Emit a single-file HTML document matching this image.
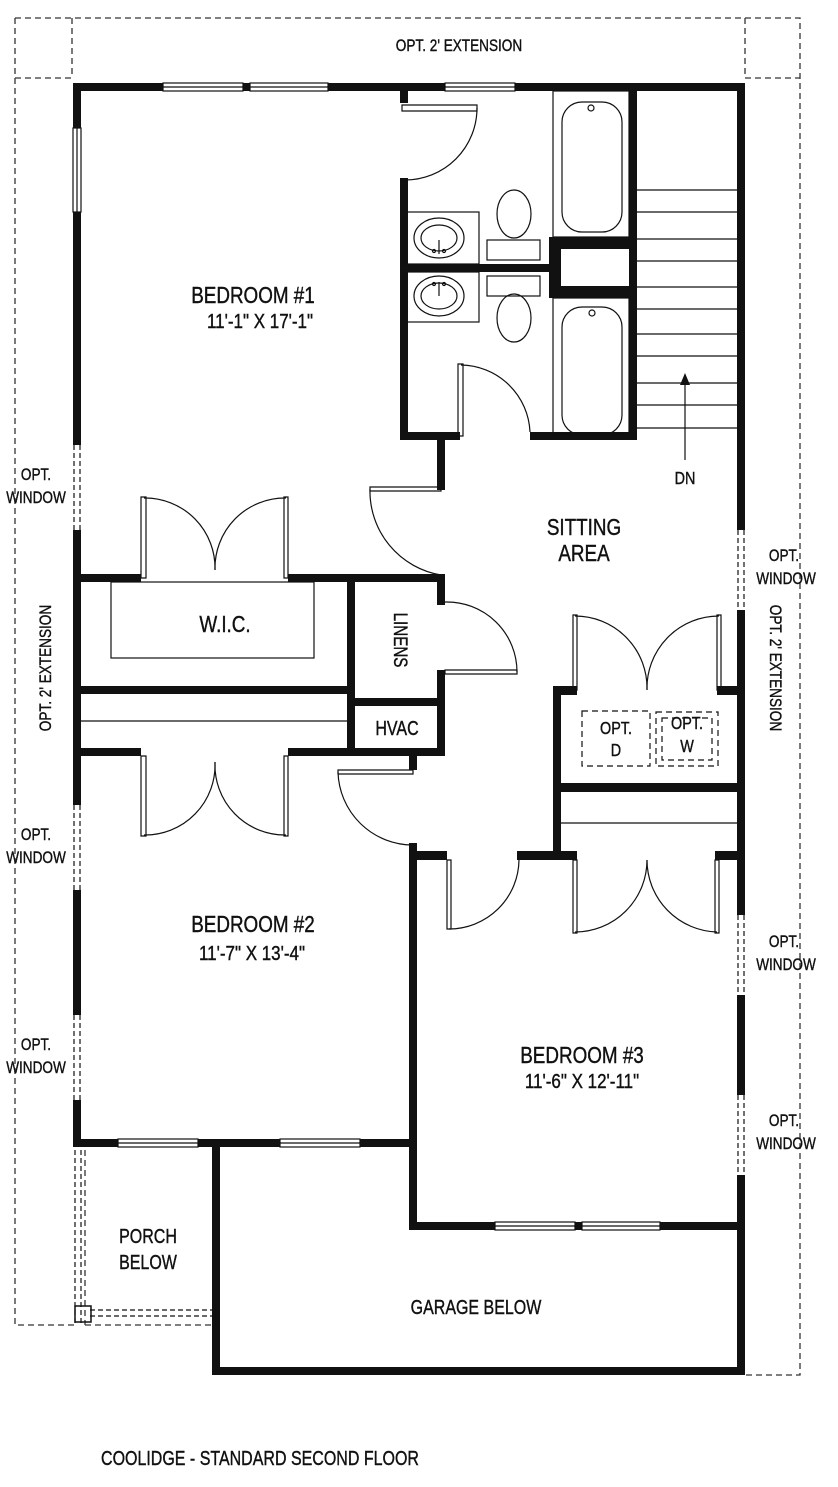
<!DOCTYPE html>
<html><head><meta charset="utf-8"><style>
html,body{margin:0;padding:0;background:#fff}
svg{display:block}
text{font-family:"Liberation Sans Narrow","Liberation Sans",sans-serif;fill:#111;stroke:#111;stroke-width:0.4}
</style></head><body>
<svg width="838" height="1487" viewBox="0 0 838 1487" xmlns="http://www.w3.org/2000/svg">
<g fill="none" stroke="#333" stroke-width="1.3" stroke-dasharray="6,4">
<path d="M15 18H800V1375H745M15 18V1325H77M15 78H72M745 78H800M72 18V78M745 18V78"/>
<path d="M85 1150V1325M85 1325H215"/>
</g>
<g fill="#111">
<rect x="73" y="83" width="90" height="8"/><rect x="243" y="83" width="7" height="8"/><rect x="328" y="83" width="117" height="8"/><rect x="515" y="83" width="230" height="8"/>
<rect x="73" y="83" width="8" height="45"/><rect x="73" y="212" width="8" height="233"/><rect x="73" y="530" width="8" height="275"/><rect x="73" y="890" width="8" height="125"/><rect x="73" y="1100" width="8" height="47"/>
<rect x="737" y="83" width="8" height="447"/><rect x="737" y="610" width="8" height="305"/><rect x="737" y="995" width="8" height="100"/><rect x="737" y="1175" width="8" height="200"/>
<rect x="400" y="91" width="8" height="12"/><rect x="400" y="178" width="8" height="262"/>
<rect x="400" y="432" width="60" height="8"/><rect x="530" y="432" width="107" height="8"/>
<rect x="629" y="91" width="8" height="349"/>
<rect x="404" y="264" width="150" height="8"/>
<rect x="549" y="237" width="84" height="12"/><rect x="549" y="286" width="84" height="12"/><rect x="549" y="237" width="12" height="61"/>
<rect x="437" y="440" width="8" height="50"/><rect x="437" y="575" width="8" height="30"/><rect x="437" y="670" width="8" height="82"/>
<rect x="77" y="574" width="64" height="8"/><rect x="288" y="574" width="157" height="8"/>
<rect x="347" y="574" width="8" height="178"/>
<rect x="77" y="686" width="274" height="8"/>
<rect x="351" y="698" width="90" height="8"/>
<rect x="77" y="748" width="64" height="8"/><rect x="288" y="748" width="157" height="8"/>
<rect x="409" y="752" width="8" height="18"/>
<rect x="553" y="686" width="8" height="170"/><rect x="553" y="686" width="24" height="9"/><rect x="717" y="686" width="24" height="9"/>
<rect x="557" y="783" width="184" height="9"/>
<rect x="409" y="843" width="8" height="387"/><rect x="409" y="851" width="38" height="9"/><rect x="517" y="851" width="60" height="9"/><rect x="715" y="851" width="26" height="9"/>
<rect x="409" y="1222" width="86" height="8"/><rect x="575" y="1222" width="7" height="8"/><rect x="660" y="1222" width="85" height="8"/>
<rect x="73" y="1139" width="45" height="8"/><rect x="198" y="1139" width="82" height="8"/><rect x="360" y="1139" width="57" height="8"/>
<rect x="212" y="1143" width="8" height="232"/><rect x="212" y="1367" width="533" height="8"/>
</g>
<g fill="#fff" stroke="#111" stroke-width="1.2">
<rect x="163" y="83" width="80" height="8"/><rect x="250" y="83" width="78" height="8"/><rect x="445" y="83" width="70" height="8"/>
<rect x="73" y="128" width="8" height="84"/>
<rect x="118" y="1139" width="80" height="8"/><rect x="280" y="1139" width="80" height="8"/>
<rect x="495" y="1222" width="80" height="8"/><rect x="582" y="1222" width="78" height="8"/>
</g>
<g fill="none" stroke="#111" stroke-width="1.2">
<line x1="163" y1="87" x2="243" y2="87"/><line x1="250" y1="87" x2="328" y2="87"/><line x1="445" y1="87" x2="515" y2="87"/><line x1="77" y1="128" x2="77" y2="212"/>
<line x1="118" y1="1143" x2="198" y2="1143"/><line x1="280" y1="1143" x2="360" y2="1143"/><line x1="495" y1="1226" x2="575" y2="1226"/><line x1="582" y1="1226" x2="660" y2="1226"/>
<g stroke-dasharray="5,3"><path d="M74 445V530M80 445V530M74 805V890M80 805V890M74 1015V1100M80 1015V1100M738 530V610M744 530V610M738 915V995M744 915V995M738 1095V1175M744 1095V1175M75 1150V1325M81 1150V1325"/>
<path d="M90 1310H212M90 1316H212"/></g>
<rect x="75" y="1306" width="16" height="16" stroke-width="1.5"/>
<rect x="553" y="91" width="76" height="146"/><rect x="562" y="102" width="60" height="130" rx="20"/><circle cx="591" cy="108" r="3"/>
<rect x="553" y="298" width="76" height="136"/><rect x="562" y="307" width="60" height="128" rx="20"/><circle cx="592" cy="313" r="3"/>
<rect x="404" y="212" width="75" height="52"/><ellipse cx="439" cy="238" rx="25" ry="20"/><ellipse cx="439" cy="238" rx="18" ry="13"/>
<rect x="404" y="272" width="75" height="50"/><ellipse cx="439" cy="296" rx="25" ry="20"/><ellipse cx="439" cy="296" rx="18" ry="13"/>
<path d="M439 240V254M439 282V296"/><circle cx="434" cy="251" r="1.5"/><circle cx="444" cy="251" r="1.5"/><circle cx="434" cy="284" r="1.5"/><circle cx="444" cy="284" r="1.5"/>
<ellipse cx="514" cy="214" rx="17" ry="24"/><rect x="487" y="240" width="53" height="20"/>
<ellipse cx="514" cy="318" rx="17" ry="24"/><rect x="487" y="276" width="53" height="20"/>
<path d="M402 105H477V111H402Z"/><path d="M477 108A72 72 0 0 1 405 180"/>
<path d="M458 364H463V436H458Z"/><path d="M461 365A70 70 0 0 1 530 432"/>
<path d="M370 487H441V491H370Z"/><path d="M370 489A85 85 0 0 0 441 575"/>
<path d="M445 602A70 70 0 0 1 517 672"/><path d="M445 670H517V674H445Z"/>
<path d="M338 770H413V774H338Z"/><path d="M338 772A75 75 0 0 0 413 845"/>
<path d="M141 497H146V578H141Z"/><path d="M144 498A70 70 0 0 1 215 570"/>
<path d="M284 497H288V578H284Z"/><path d="M286 498A70 70 0 0 0 215 570"/>
<path d="M141 756H146V836H141Z"/><path d="M144 835A70 70 0 0 0 215 762"/>
<path d="M284 756H288V836H284Z"/><path d="M286 835A70 70 0 0 1 215 762"/>
<rect x="111" y="582" width="203" height="76"/>
<line x1="81" y1="721" x2="347" y2="721"/>
<path d="M573 615H577V690H573Z"/><path d="M575 616A72 72 0 0 1 647 690"/>
<path d="M717 615H721V690H717Z"/><path d="M719 616A72 72 0 0 0 647 690"/>
<line x1="561" y1="823" x2="737" y2="823"/>
<path d="M447 860H451V929H447Z"/><path d="M449 929A70 70 0 0 0 519 860"/>
<path d="M573 860H577V933H573Z"/><path d="M575 932A72 72 0 0 0 647 860"/>
<path d="M715 860H719V933H715Z"/><path d="M717 932A72 72 0 0 1 647 860"/>
<path d="M637 190H737M637 212H737M637 239H737M637 261H737M637 287H737M637 309H737M637 334H737M637 356H737M637 383H737M637 405H737M637 428H737"/>
<line x1="685" y1="460" x2="685" y2="383"/>
<g stroke-dasharray="6,4"><rect x="582" y="711" width="68" height="55"/><rect x="656" y="712" width="62" height="54"/><rect x="662" y="718" width="50" height="42"/></g>
</g>
<path d="M685 373L680 385H690Z" fill="#111"/>
<g font-size="23" text-anchor="middle">
<text x="253" y="303" transform="translate(253 0) scale(0.82 1) translate(-253 0)">BEDROOM #1</text>
<text x="584" y="535" transform="translate(584 0) scale(0.82 1) translate(-584 0)">SITTING</text>
<text x="584" y="561" transform="translate(584 0) scale(0.82 1) translate(-584 0)">AREA</text>
<text x="225" y="632" transform="translate(225 0) scale(0.82 1) translate(-225 0)">W.I.C.</text>
<text x="253" y="932" transform="translate(253 0) scale(0.82 1) translate(-253 0)">BEDROOM #2</text>
<text x="582" y="1063" transform="translate(582 0) scale(0.82 1) translate(-582 0)">BEDROOM #3</text>
</g>
<g font-size="20" text-anchor="middle">
<text x="260" y="328" transform="translate(260 0) scale(0.85 1) translate(-260 0)">11'-1" X 17'-1"</text>
<text x="252" y="960" transform="translate(252 0) scale(0.85 1) translate(-252 0)">11'-7" X 13'-4"</text>
<text x="582" y="1088" transform="translate(582 0) scale(0.85 1) translate(-582 0)">11'-6" X 12'-11"</text>
<text x="148" y="1243" transform="translate(148 0) scale(0.8 1) translate(-148 0)">PORCH</text>
<text x="148" y="1269" transform="translate(148 0) scale(0.8 1) translate(-148 0)">BELOW</text>
<text x="476" y="1314" transform="translate(476 0) scale(0.8 1) translate(-476 0)">GARAGE BELOW</text>
<text x="397" y="735" transform="translate(397 0) scale(0.8 1) translate(-397 0)">HVAC</text>
<text x="260" y="1465" transform="translate(260 0) scale(0.8 1) translate(-260 0)">COOLIDGE - STANDARD SECOND FLOOR</text>
</g>
<g font-size="18" text-anchor="middle">
<text x="616" y="734" transform="translate(616 0) scale(0.8 1) translate(-616 0)">OPT.</text>
<text x="616" y="756" transform="translate(616 0) scale(0.8 1) translate(-616 0)">D</text>
<text x="687" y="729" transform="translate(687 0) scale(0.8 1) translate(-687 0)">OPT.</text>
<text x="687" y="752" transform="translate(687 0) scale(0.8 1) translate(-687 0)">W</text>
<text x="685" y="484" transform="translate(685 0) scale(0.8 1) translate(-685 0)">DN</text>
</g>
<g font-size="17" text-anchor="middle">
<text x="459" y="51" transform="translate(459 0) scale(0.8 1) translate(-459 0)">OPT. 2' EXTENSION</text>
<text x="36" y="480" transform="translate(36 0) scale(0.8 1) translate(-36 0)">OPT.</text>
<text x="36" y="503" transform="translate(36 0) scale(0.8 1) translate(-36 0)">WINDOW</text>
<text x="36" y="840" transform="translate(36 0) scale(0.8 1) translate(-36 0)">OPT.</text>
<text x="36" y="863" transform="translate(36 0) scale(0.8 1) translate(-36 0)">WINDOW</text>
<text x="36" y="1050" transform="translate(36 0) scale(0.8 1) translate(-36 0)">OPT.</text>
<text x="36" y="1073" transform="translate(36 0) scale(0.8 1) translate(-36 0)">WINDOW</text>
<text x="784" y="561" transform="translate(784 0) scale(0.8 1) translate(-784 0)">OPT.</text>
<text x="786" y="584" transform="translate(786 0) scale(0.8 1) translate(-786 0)">WINDOW</text>
<text x="784" y="947" transform="translate(784 0) scale(0.8 1) translate(-784 0)">OPT.</text>
<text x="786" y="970" transform="translate(786 0) scale(0.8 1) translate(-786 0)">WINDOW</text>
<text x="784" y="1126" transform="translate(784 0) scale(0.8 1) translate(-784 0)">OPT.</text>
<text x="786" y="1149" transform="translate(786 0) scale(0.8 1) translate(-786 0)">WINDOW</text>
<text transform="translate(51 668) rotate(-90) scale(0.8 1)">OPT. 2' EXTENSION</text>
<text transform="translate(770 668) rotate(90) scale(0.8 1)">OPT. 2' EXTENSION</text>
<text transform="translate(394 640) rotate(90) scale(0.8 1)" font-size="19">LINENS</text>
</g>
</svg>
</body></html>
